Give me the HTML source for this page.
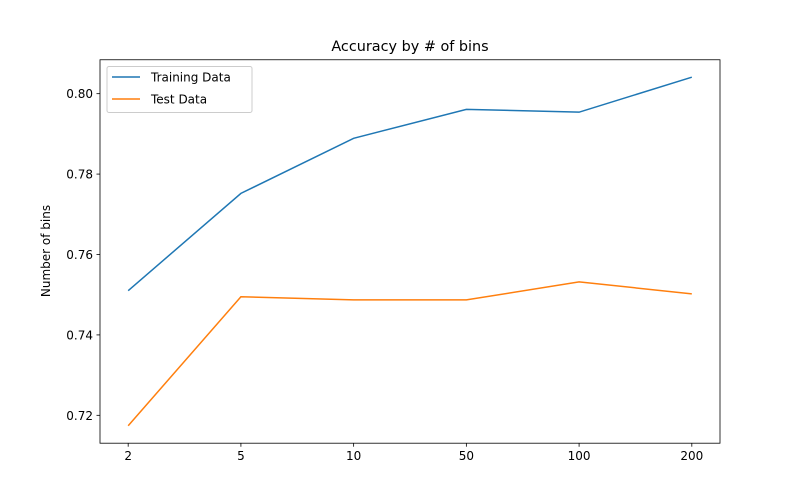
<!DOCTYPE html>
<html><head><meta charset="utf-8"><style>
body{margin:0;background:#fff;}
svg text{font-family:"DejaVu Sans","Liberation Sans",sans-serif;fill:#000;}
</style></head><body>
<svg id="chart" width="800" height="498" xmlns="http://www.w3.org/2000/svg">
<rect width="800" height="498" fill="#fff"/>
<text x="410" y="51" font-size="14.4" text-anchor="middle">Accuracy by # of bins</text>
<text transform="translate(50,251) rotate(-90)" font-size="12" text-anchor="middle">Number of bins</text>
<g id="plot"></g>
</svg>
<script>
const categories=["2","5","10","50","100","200"];
const trainValues=[0.7510,0.7752,0.7889,0.7961,0.7954,0.8041];
const testValues=[0.7174,0.7495,0.7487,0.7487,0.7532,0.7502];
const yTicks=[0.72,0.74,0.76,0.78,0.80];
const L=100,R=720,T=59.76,B=443.2;
const all=trainValues.concat(testValues);
const mn=Math.min(...all),mx=Math.max(...all),pad=(mx-mn)*0.05;
const y0=mn-pad,y1=mx+pad;
const n=categories.length;
const xs=i=>L+(i+0.25)*(R-L)/(n-1+0.5);
const ys=v=>B-(v-y0)/(y1-y0)*(B-T);
const g=document.getElementById('plot');
const NS="http://www.w3.org/2000/svg";
function mk(tag,attrs){const e=document.createElementNS(NS,tag);for(const k in attrs)e.setAttribute(k,attrs[k]);g.appendChild(e);return e;}
categories.forEach((c,i)=>{
 const x=xs(i);
 const t=mk('line',{x1:x,x2:x,y1:B,y2:B+3.5,stroke:'#000','stroke-width':0.8});
 
 
 const l=mk('text',{x:x,y:B+17,'font-size':12,'text-anchor':'middle'});
 l.textContent=c;
 
 
});
yTicks.forEach(v=>{
 const y=ys(v);
 const t=mk('line',{x1:L-3.5,x2:L,y1:y,y2:y,stroke:'#000','stroke-width':0.8});
 
 
 const l=mk('text',{x:L-7,y:y+4.5,'font-size':12,'text-anchor':'end'});
 l.textContent=v.toFixed(2);
 
 
});
function series(vals,color,name){
 const p=mk('polyline',{points:vals.map((v,i)=>xs(i)+','+ys(v)).join(' '),fill:'none',stroke:color,'stroke-width':1.5});
 
 
}
series(trainValues,'#1f77b4','training-data-line');
series(testValues,'#ff7f0e','test-data-line');
const f=mk('rect',{x:L,y:T,width:R-L,height:B-T,fill:'none',stroke:'#000','stroke-width':0.8});


const lg=mk('rect',{x:107,y:66.5,width:145,height:46,fill:'#fff',stroke:'#ccc','stroke-width':1,rx:2});


[['Training Data','#1f77b4'],['Test Data','#ff7f0e']].forEach((e,i)=>{
 const y=77+i*22;
 const ln=mk('line',{x1:112,x2:140,y1:y,y2:y,stroke:e[1],'stroke-width':1.5});
 
 
 const t=mk('text',{x:151,y:y+4.5,'font-size':12});
 t.textContent=e[0];
 
 
});
</script>
</body></html>
